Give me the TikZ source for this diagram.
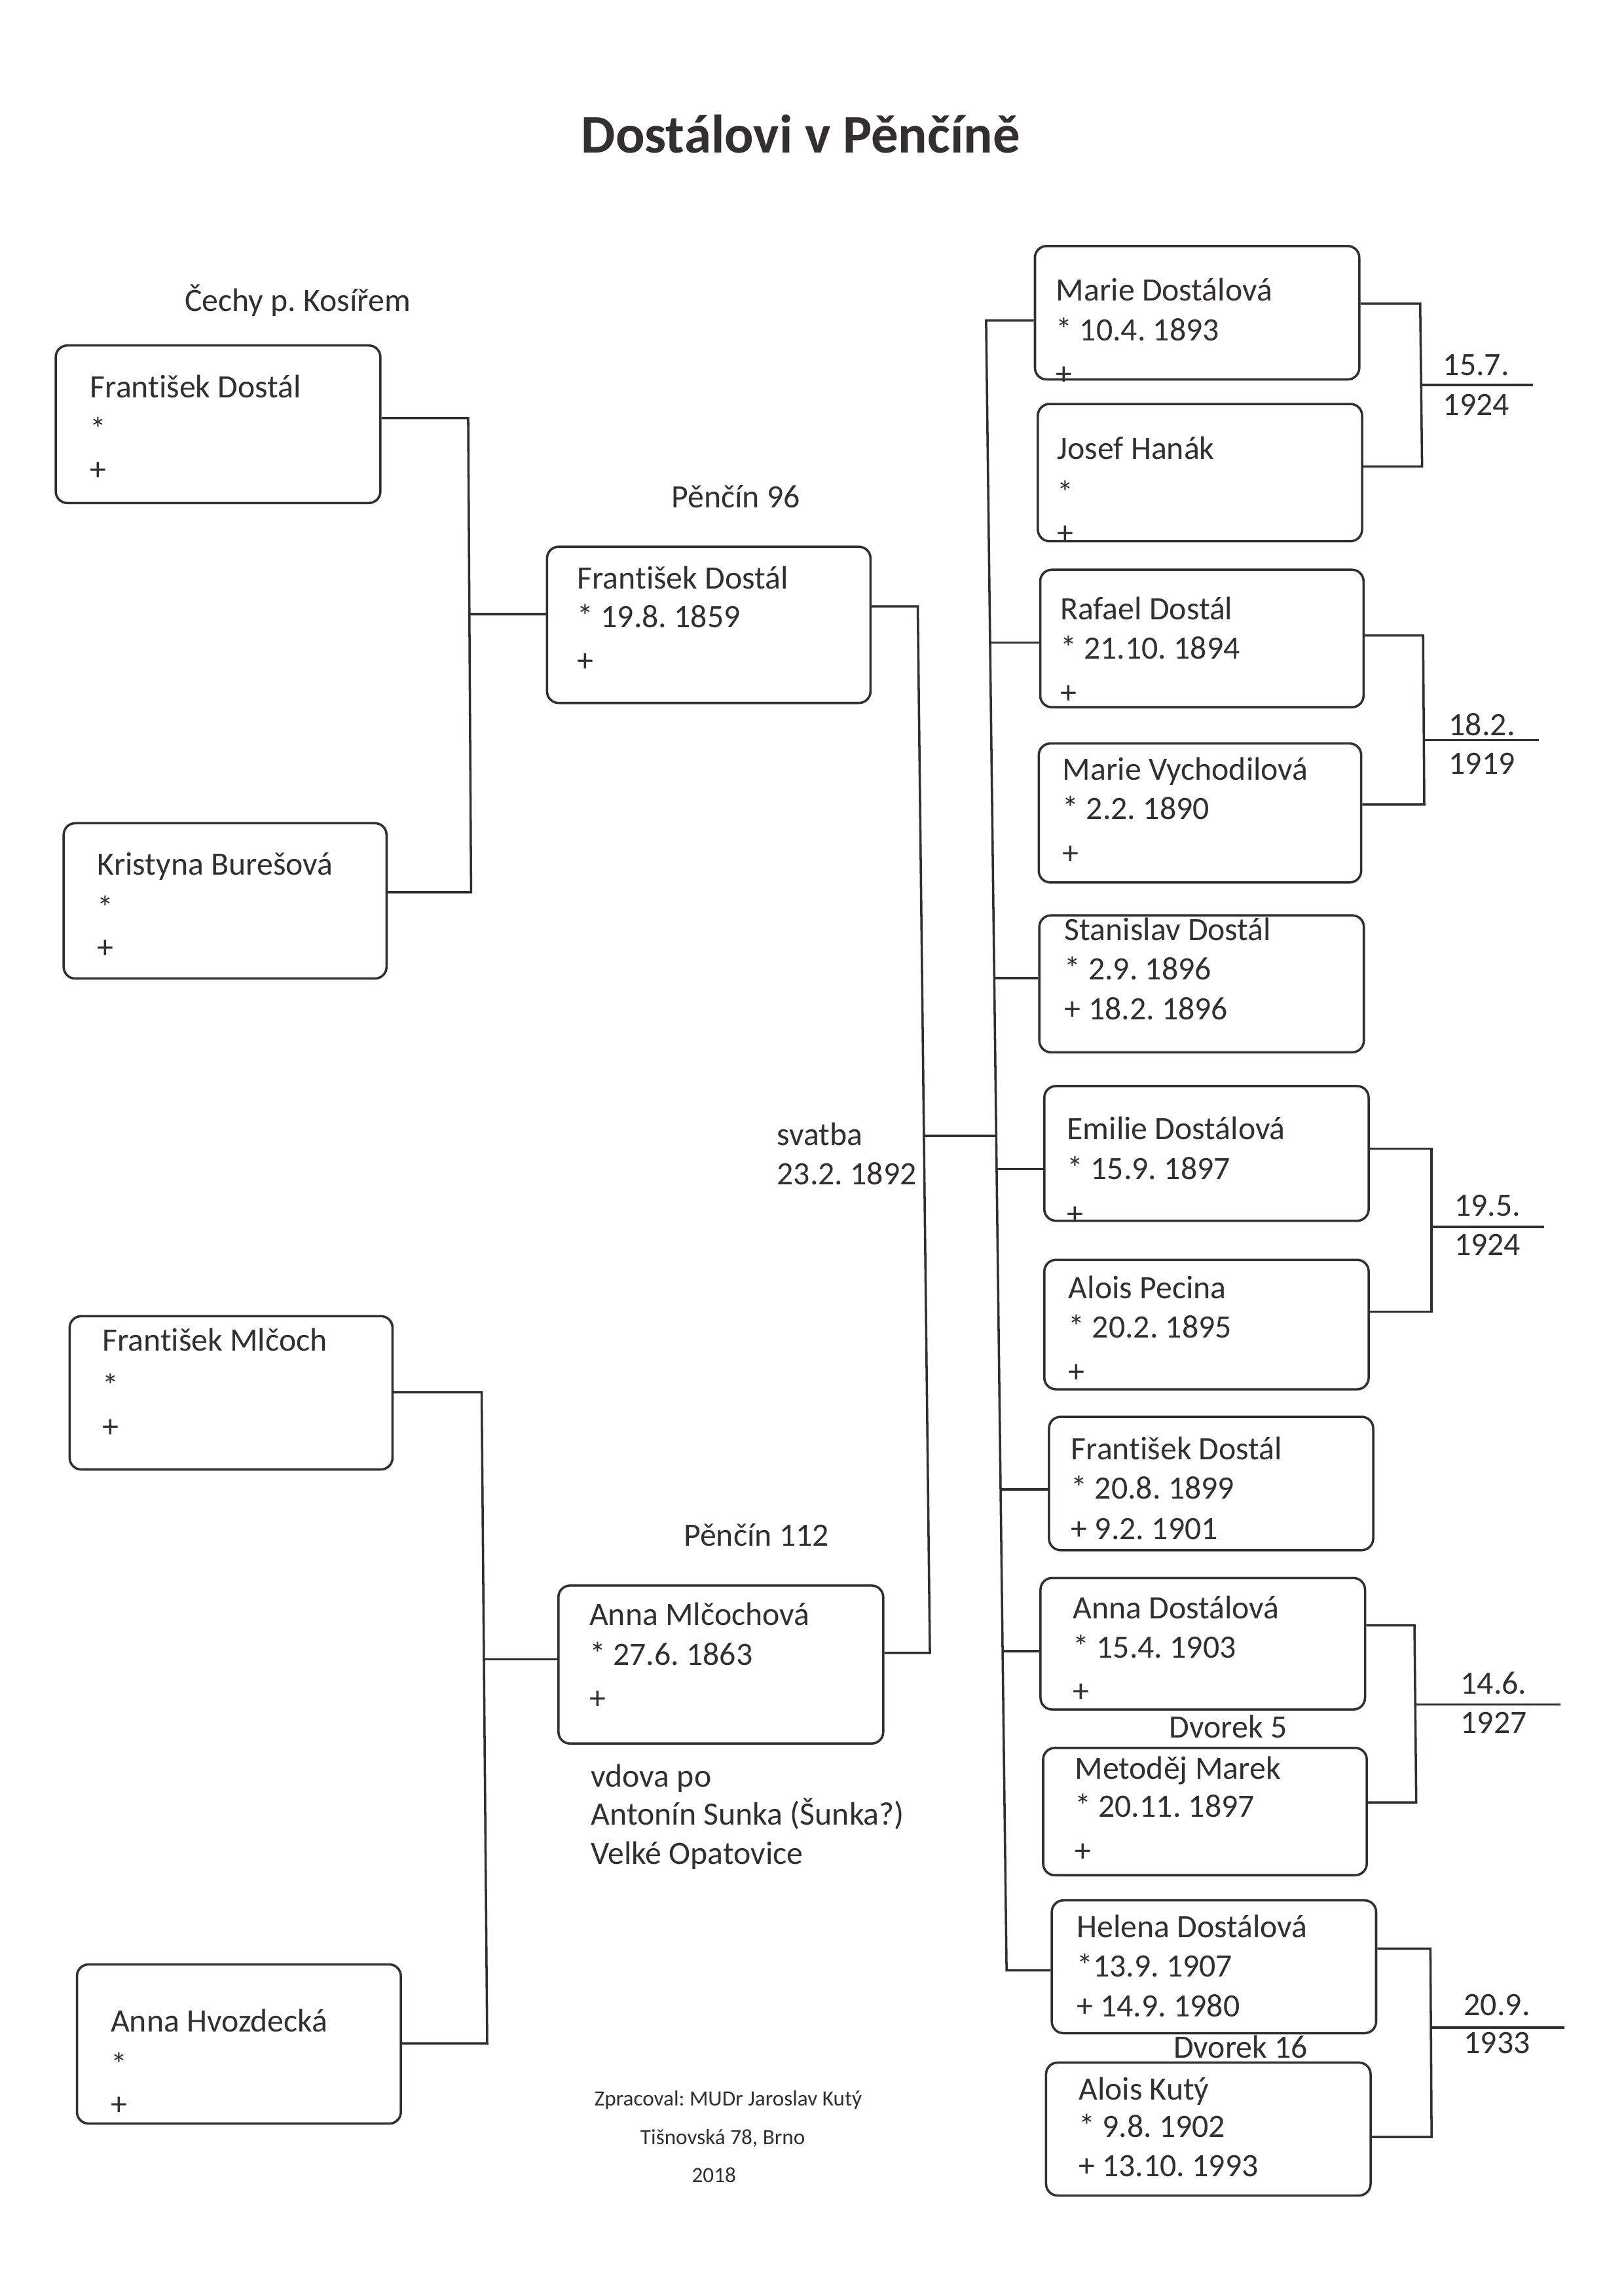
\documentclass[tikz,border=0pt]{standalone}
\usepackage{fontspec}
\setmainfont{Carlito}[Ligatures=NoCommon]
\frenchspacing
\usetikzlibrary{fit}
\definecolor{ink}{RGB}{50,46,50}
\newcommand\fambox[3]{\node[pbox, fit={(#2) (#3)}] (#1) {};}
\newcommand\famtext[8]{%
  \node[ptxt] (#1a) at (#2,#3) {#4};
  \node[ptxt] (#1b) at (#2,#5) {#6};
  \node[ptxt] (#1c) at (#2,#7) {#8};}
\begin{document}
\begin{tikzpicture}[x=0.189189mm, y=-0.189189mm,
  pbox/.style={draw=ink, line width=0.85pt, rounded corners=1.5mm, inner sep=0pt},
  ptxt/.style={anchor=base west, inner sep=0pt, font=\fontsize{12}{14}\selectfont, text=ink},
  lbl/.style={anchor=base, inner sep=0pt, font=\fontsize{12}{14}\selectfont, text=ink},
  foot/.style={anchor=base, inner sep=0pt, font=\fontsize{8}{10}\selectfont, text=ink},
  conn/.style={draw=ink, line width=0.85pt}]
\fill[white] (0,0) rectangle (1110,1569.7);
\useasboundingbox (0,0) rectangle (1110,1569.7);

% title
\node[anchor=base, inner sep=0pt, font=\bfseries\fontsize{20}{24}\selectfont, text=ink] (title) at (547.3,104.4) {Dostálovi v Pěnčíně};

% ---------- grandparents (paternal) ----------
\node[lbl] (lcechy) at (203.5,213) {Čechy p. Kosířem};
\fambox{gf}{38.1,236.2}{260,343.9}
\famtext{gft}{61.3}{271.7}{František Dostál}{301}{*}{328.5}{+}
\fambox{kb}{43.5,562.8}{264.2,669}
\famtext{kbt}{66.3}{598}{Kristyna Burešová}{628}{*}{655}{+}

% ---------- father ----------
\node[lbl] (lp96) at (503,347) {Pěnčín 96};
\fambox{fa}{373.9,373.8}{595,480.6}
\famtext{fat}{394.2}{402.7}{František Dostál}{428.8}{* 19.8. 1859}{459}{+}

% ---------- grandparents (maternal) ----------
\fambox{fm}{47.6,899.8}{268.3,1004.6}
\famtext{fmt}{69.6}{923.8}{František Mlčoch}{955}{*}{982.5}{+}
\fambox{ah}{52.6,1343}{274,1451.8}
\famtext{aht}{75.3}{1389.3}{Anna Hvozdecká}{1419}{*}{1446}{+}

% ---------- mother ----------
\node[lbl] (lp112) at (517,1057) {Pěnčín 112};
\fambox{am}{381.7,1084}{603.7,1192}
\famtext{amt}{402.5}{1111}{Anna Mlčochová}{1138.6}{* 27.6. 1863}{1168.5}{+}
\famtext{vdo}{403.7}{1221.7}{vdova po}{1247.5}{Antonín Sunka (Šunka?)}{1274.5}{Velké Opatovice}

% wedding
\node[ptxt] (svat1) at (530.7,783) {svatba};
\node[ptxt] (svat2) at (530.7,809.7) {23.2. 1892};

% ---------- children ----------
\fambox{md}{707.4,168.2}{929.1,259.4}
\famtext{mdt}{721.5}{205.5}{Marie Dostálová}{233}{* 10.4. 1893}{263}{+}
\fambox{jh}{709.4,276.2}{931,370}
\famtext{jht}{722.3}{313.9}{Josef Hanák}{344.5}{*}{371.7}{+}

\fambox{rd}{711,389.5}{932,483.5}
\famtext{rdt}{724.3}{423.5}{Rafael Dostál}{450.4}{* 21.10. 1894}{481}{+}
\fambox{mv}{710,508.3}{930.4,603.3}
\famtext{mvt}{726}{533.3}{Marie Vychodilová}{560.3}{* 2.2. 1890}{590.5}{+}

\fambox{sd}{710.4,625.8}{932.2,719.4}
\famtext{sdt}{727.4}{643.1}{Stanislav Dostál}{669.8}{* 2.9. 1896}{697.1}{+ 18.2. 1896}

\fambox{ed}{713.8,742.5}{935.5,834.6}
\famtext{edt}{729}{779}{Emilie Dostálová}{806.4}{* 15.9. 1897}{837.3}{+}
\fambox{ap}{713.8,861.3}{935.5,949.8}
\famtext{apt}{730}{888}{Alois Pecina}{914.7}{* 20.2. 1895}{945}{+}

\fambox{fd}{717,968.6}{938.6,1059.8}
\famtext{fdt}{731.8}{997.9}{František Dostál}{1024.6}{* 20.8. 1899}{1052.3}{+ 9.2. 1901}

\fambox{ad}{711.2,1078.8}{933,1168.7}
\famtext{adt}{733}{1106.7}{Anna Dostálová}{1133.4}{* 15.4. 1903}{1163.5}{+}
\node[lbl] (dv5) at (839.5,1188.3) {Dvorek 5};
\fambox{mm}{713,1195}{934.2,1282}
\famtext{mmt}{734.3}{1216.1}{Metoděj Marek}{1242.2}{* 20.11. 1897}{1272.7}{+}

\fambox{hd}{718.9,1299.2}{940.6,1390}
\famtext{hdt}{735.6}{1324.7}{Helena Dostálová}{1351.6}{*13.9. 1907}{1378.6}{+ 14.9. 1980}
\node[lbl] (dv16) at (848,1407) {Dvorek 16};
\fambox{ak}{715,1410.1}{936.8,1501}
\famtext{akt}{736.9}{1435.5}{Alois Kutý}{1461}{* 9.8. 1902}{1488}{+ 13.10. 1993}

% marriage dates
\node[ptxt] (d1a) at (986,256.9) {15.7.};
\node[ptxt] (d1b) at (986,283.8) {1924};
\node[ptxt] (d2a) at (990,502.7) {18.2.};
\node[ptxt] (d2b) at (990,529.4) {1919};
\node[ptxt] (d3a) at (993.8,831.5) {19.5.};
\node[ptxt] (d3b) at (993.8,858.2) {1924};
\node[ptxt] (d4a) at (998,1158.3) {14.6.};
\node[ptxt] (d4b) at (998,1185.2) {1927};
\node[ptxt] (d5a) at (1000.3,1378) {20.9.};
\node[ptxt] (d5b) at (1000.3,1404) {1933};

% footer
\node[foot] (f1) at (497.7,1439.7) {Zpracoval: MUDr Jaroslav Kutý};
\node[foot] (f2) at (494,1466) {Tišnovská 78, Brno};
\node[foot] (f3) at (488,1492.2) {2018};

% ---------- junction coordinates ----------
\coordinate (jA1) at (320,285.8);
\coordinate (jA2) at (322,610);
\coordinate (jAm) at (320.8,419.9);
\coordinate (jB1) at (329.2,951.8);
\coordinate (jB2) at (333,1397);
\coordinate (jBm) at (330.8,1134.3);
\coordinate (jC1) at (627.3,414.5);
\coordinate (jC2) at (635.6,1130);
\coordinate (jCm) at (631.5,776.6);
\coordinate (jD1) at (674,219.1);
\coordinate (jD2) at (688,1347.1);
\coordinate (jDm) at (680.9,776.6);
\coordinate (cR) at (676.7,439.4);
\coordinate (cS) at (679.6,668.8);
\coordinate (cE) at (681.2,799.1);
\coordinate (cF) at (683.9,1018.3);
\coordinate (cA) at (685.3,1128.9);
\coordinate (jE1) at (970.7,207.6);
\coordinate (jE2) at (972,319);
\coordinate (jEm) at (971.3,263.3);
\coordinate (jEe) at (1047.8,263.3);
\coordinate (jF1) at (972.7,434.4);
\coordinate (jF2) at (973.5,550);
\coordinate (jFm) at (973.2,506);
\coordinate (jFe) at (1052,506);
\coordinate (jG1) at (978.4,785.3);
\coordinate (jG2) at (978.4,896.8);
\coordinate (jGm) at (978.4,838.7);
\coordinate (jGe) at (1055.5,838.7);
\coordinate (jH1) at (966.8,1111.2);
\coordinate (jH2) at (968,1232.3);
\coordinate (jHm) at (967.4,1165.2);
\coordinate (jHe) at (1066.6,1165.2);
\coordinate (jI1) at (977.7,1332.2);
\coordinate (jI2) at (978.5,1461);
\coordinate (jIm) at (978.2,1386.1);
\coordinate (jIe) at (1069.1,1386.1);

% ---------- connectors ----------
\draw[conn] (gf.east |- jA1) -- (jA1) -- (jA2) -- (kb.east |- jA2);
\draw[conn] (jAm) -- (fa.west |- jAm);
\draw[conn] (fm.east |- jB1) -- (jB1) -- (jB2) -- (ah.east |- jB2);
\draw[conn] (jBm) -- (am.west |- jBm);
\draw[conn] (fa.east |- jC1) -- (jC1) -- (jC2) -- (am.east |- jC2);
\draw[conn] (jCm) -- (jDm);
\draw[conn] (md.west |- jD1) -- (jD1) -- (jD2) -- (hd.west |- jD2);
\draw[conn] (cR) -- (rd.west |- cR);
\draw[conn] (cS) -- (sd.west |- cS);
\draw[conn] (cE) -- (ed.west |- cE);
\draw[conn] (cF) -- (fd.west |- cF);
\draw[conn] (cA) -- (ad.west |- cA);
\draw[conn] (md.east |- jE1) -- (jE1) -- (jE2) -- (jh.east |- jE2);
\draw[conn] (jEm) -- (jEe);
\draw[conn] (rd.east |- jF1) -- (jF1) -- (jF2) -- (mv.east |- jF2);
\draw[conn] (jFm) -- (jFe);
\draw[conn] (ed.east |- jG1) -- (jG1) -- (jG2) -- (ap.east |- jG2);
\draw[conn] (jGm) -- (jGe);
\draw[conn] (ad.east |- jH1) -- (jH1) -- (jH2) -- (mm.east |- jH2);
\draw[conn] (jHm) -- (jHe);
\draw[conn] (hd.east |- jI1) -- (jI1) -- (jI2) -- (ak.east |- jI2);
\draw[conn] (jIm) -- (jIe);
\end{tikzpicture}
\end{document}
